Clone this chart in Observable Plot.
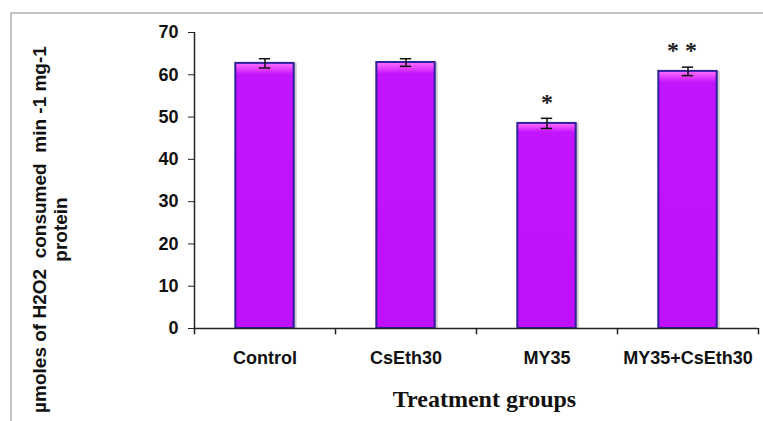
<!DOCTYPE html>
<html>
<head>
<meta charset="utf-8">
<script src="https://cdn.jsdelivr.net/npm/d3@7"></script>
<script src="https://cdn.jsdelivr.net/npm/@observablehq/plot@0.6"></script>
<style>
  html, body { margin: 0; padding: 0; background: #fff; }
  #wrap { position: relative; width: 763px; height: 421px; overflow: hidden; }
  #border { position: absolute; left: 10px; top: 12px; right: -10px; bottom: -10px;
            border-top: 2px solid #c4c4c4; border-left: 2px solid #c4c4c4; pointer-events: none; }
</style>
</head>
<body>
<div id="wrap"><div id="border"></div></div>
<script>
const categories = ["Control", "CsEth30", "MY35", "MY35+CsEth30"];
const means = [62.7, 62.9, 48.5, 60.8];
const errors = [1.1, 0.9, 1.2, 1.0];
const stars = ["", "", "*", "* *"];
const yTicks = [0, 10, 20, 30, 40, 50, 60, 70];
const yLabel = "µmoles of H2O2  consumed  min -1 mg-1\nprotein";
const xLabel = "Treatment groups";

const rows = categories.map((c, i) => ({cat: c, v: means[i], e: errors[i], star: stars[i]}));

const W = 763, H = 421, mL = 194, mR = 5, mT = 32, mB = 93;
const step = (W - mL - mR) / categories.length;
const axisColor = "#222";
const sans = "'Liberation Sans', Arial, sans-serif";
const serif = "'Liberation Serif', 'Times New Roman', serif";

const chart = Plot.plot({
  width: W, height: H,
  marginLeft: mL, marginRight: mR, marginTop: mT, marginBottom: mB,
  style: {fontFamily: sans, background: "transparent", color: axisColor},
  x: {domain: categories, paddingInner: 0.586, paddingOuter: 0.293, round: false},
  y: {domain: [0, 70]},
  marks: [
    Plot.barY(rows, {x: "cat", y: "v", fill: "#9a9a9a", fillOpacity: 0.5, dx: 3}),
    Plot.barY(rows, {x: "cat", y: "v", fill: "#c214fd", stroke: "#2f1f9e", strokeWidth: 2}),
    Plot.ruleX(rows, {x: "cat", y1: d => d.v - d.e, y2: d => d.v + d.e, stroke: "#111", strokeWidth: 1.5}),
    Plot.tickY(rows, {x: "cat", y: d => d.v + d.e, insetLeft: 23.5, insetRight: 23.5, stroke: "#111", strokeWidth: 1.5}),
    Plot.tickY(rows, {x: "cat", y: d => d.v - d.e, insetLeft: 23.5, insetRight: 23.5, stroke: "#111", strokeWidth: 1.5}),
    Plot.ruleY([0], {stroke: axisColor, strokeWidth: 1.5}),
    Plot.ruleX([categories[0]], {x: d => d, y1: 0, y2: 70, dx: -step / 2, stroke: axisColor, strokeWidth: 1.5}),
    Plot.ruleX(categories, {x: d => d, y1: 0, y2: -1.5, dx: step / 2, stroke: axisColor, strokeWidth: 1.5}),
    Plot.ruleX([categories[0]], {x: d => d, y1: 0, y2: -1.5, dx: -step / 2, stroke: axisColor, strokeWidth: 1.5}),
    Plot.axisY(yTicks, {tickSize: 6, tickPadding: 10, fontSize: 18, fontWeight: "bold", label: null, stroke: axisColor, fill: "#111"}),
    Plot.axisX({tickSize: 0, tickPadding: 23, fontSize: 18, fontWeight: "bold", label: null, fill: "#111"}),
    Plot.text([yLabel], {frameAnchor: "left", rotate: -90, textAnchor: "middle", lineAnchor: "middle",
      lineHeight: 1.1, dx: -144.6, dy: 49, fontSize: 19, fontWeight: "bold", fill: "#111"}),
    Plot.text([xLabel], {frameAnchor: "bottom", lineAnchor: "top", dx: 8, dy: 61,
      fontSize: 24, fontWeight: "bold", fontFamily: serif, fill: "#111"}),
    Plot.text(rows.filter(d => d.star === "*"), {x: "cat", y: d => d.v + d.e, text: "star",
      dy: -16.5, fontSize: 24, fontWeight: "bold", fontFamily: serif, fill: "#222"}),
    Plot.text(rows.filter(d => d.star === "* *"), {x: "cat", y: d => d.v + d.e, text: "star",
      dx: -6, dy: -16.5, fontSize: 24, fontWeight: "bold", fontFamily: serif, fill: "#222"})
  ]
});

// 3D-ish gradient fill for the bars
const svg = d3.select(chart.tagName.toLowerCase() === "svg" ? chart : chart.querySelector("svg"));
const defs = svg.insert("defs", ":first-child");
const g = defs.append("linearGradient").attr("id", "barGrad").attr("x1", 0).attr("y1", 0).attr("x2", 0).attr("y2", 1);
[[0, "#ff72ff"], [0.025, "#e03cff"], [0.045, "#c214fd"], [1, "#c010fa"]]
  .forEach(([o, c]) => g.append("stop").attr("offset", o).attr("stop-color", c));
const barGroups = svg.selectAll('g[aria-label="bar"]').nodes();
if (barGroups.length > 1) d3.select(barGroups[1]).selectAll("rect").attr("fill", "url(#barGrad)");

document.getElementById("wrap").appendChild(chart);
</script>
</body>
</html>
